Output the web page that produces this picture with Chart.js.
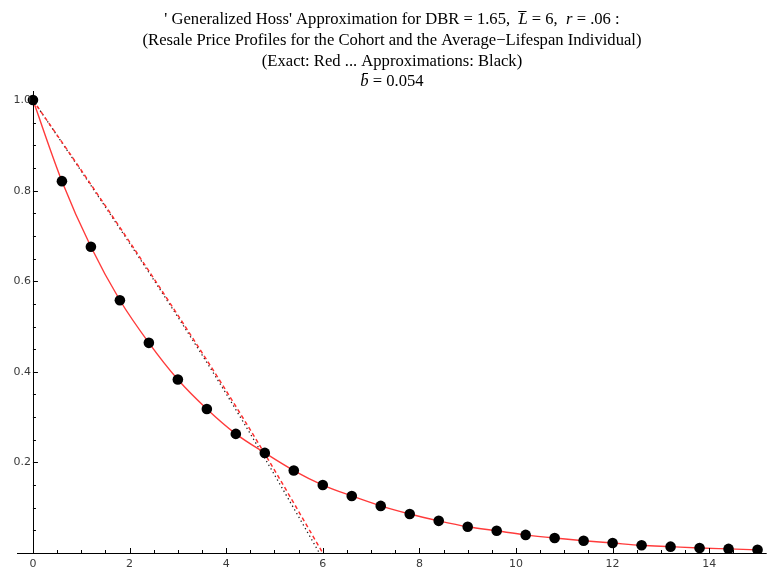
<!DOCTYPE html>
<html>
<head>
<meta charset="utf-8">
<script src="https://cdn.jsdelivr.net/npm/chart.js@4.4.1/dist/chart.umd.min.js"></script>
<style>
  body { margin: 0; background: #fff; }
  #wrap { width: 772px; height: 573px; }
</style>
</head>
<body>
<div id="wrap"><canvas id="chart" width="772" height="573"></canvas></div>
<script>
// approximation dots (black) and exact profile (red)
const ages = [0, 0.6, 1.2, 1.8, 2.4, 3.0, 3.6, 4.2, 4.8, 5.4, 6.0, 6.6, 7.2, 7.8,
  8.4, 9.0, 9.6, 10.2, 10.8, 11.4, 12.0, 12.6, 13.2, 13.8, 14.4, 15.0];
const approxPrices = [1.0, 0.821, 0.676, 0.558, 0.464, 0.383, 0.318, 0.263, 0.221,
  0.182, 0.150, 0.126, 0.104, 0.086, 0.071, 0.058, 0.049, 0.040, 0.033, 0.027,
  0.022, 0.017, 0.014, 0.011, 0.009, 0.007];
const exactPrices = [1.0, 0.821, 0.676, 0.558, 0.464, 0.383, 0.318, 0.263, 0.221,
  0.182, 0.150, 0.126, 0.104, 0.086, 0.071, 0.058, 0.049, 0.040, 0.033, 0.027,
  0.022, 0.017, 0.014, 0.011, 0.009, 0.007];

// average-lifespan individual
const indivExactX = [0, 1, 2, 3, 3.86, 4.85, 6.0];
const indivExactY = [1.0, 0.845, 0.687, 0.525, 0.382, 0.21, 0.0];
const indivApproxX = [0, 1, 2, 3, 3.86, 4.85, 5.93];
const indivApproxY = [1.0, 0.843, 0.684, 0.521, 0.376, 0.20, 0.0];

const xTicks = [0, 2, 4, 6, 8, 10, 12, 14];
const yTicks = [0.2, 0.4, 0.6, 0.8, 1.0];
const xMinorStep = 0.5;
const yMinorStep = 0.05;

const titleLines = [
  [["' Generalized Hoss' Approximation for DBR = 1.65,  ", false], ["L\u0305", true], [" = 6,  ", false], ["r", true], [" = .06 :", false]],
  [["(Resale Price Profiles for the Cohort and the Average\u2212Lifespan Individual)", false]],
  [["(Exact: Red ... Approximations: Black)", false]],
  [["b\u0304", true], [" = 0.054", false]]
];

function pts(xs, ys) {
  return xs.map((x, i) => ({ x: x, y: ys[i] }));
}

const axesPlugin = {
  id: 'mmaAxes',
  afterDraw(chart) {
    const ctx = chart.ctx;
    const xs = chart.scales.x;
    const ys = chart.scales.y;
    const x0 = xs.getPixelForValue(0);
    const y0 = ys.getPixelForValue(0);
    const area = chart.chartArea;

    ctx.save();
    ctx.strokeStyle = '#000';
    ctx.lineWidth = 1;
    ctx.beginPath();
    ctx.moveTo(area.left, Math.round(y0) + 0.5);
    ctx.lineTo(area.right, Math.round(y0) + 0.5);
    ctx.moveTo(Math.round(x0) + 0.5, area.top);
    ctx.lineTo(Math.round(x0) + 0.5, y0);
    ctx.stroke();

    // ticks point inward
    ctx.beginPath();
    for (let v = xMinorStep; v <= xs.max; v += xMinorStep) {
      const px = Math.round(xs.getPixelForValue(v)) + 0.5;
      const major = Math.abs(v / 2 - Math.round(v / 2)) < 1e-6;
      ctx.moveTo(px, y0);
      ctx.lineTo(px, y0 - (major ? 5 : 3));
    }
    for (let v = yMinorStep; v <= ys.max; v += yMinorStep) {
      const py = Math.round(ys.getPixelForValue(v)) + 0.5;
      const major = Math.abs(v / 0.2 - Math.round(v / 0.2)) < 1e-6;
      ctx.moveTo(x0, py);
      ctx.lineTo(x0 + (major ? 5 : 3), py);
    }
    ctx.stroke();

    ctx.fillStyle = '#3a3a3a';
    ctx.font = '11px "DejaVu Sans"';
    ctx.textAlign = 'center';
    ctx.textBaseline = 'middle';
    xTicks.forEach(v => {
      ctx.fillText(String(v), xs.getPixelForValue(v), y0 + 11);
    });
    ctx.textAlign = 'right';
    yTicks.forEach(v => {
      ctx.fillText(v.toFixed(1), x0 - 2, ys.getPixelForValue(v));
    });

    // title, with italic symbols
    const cx = 392;
    const baselines = [24, 45, 66, 86];
    ctx.fillStyle = '#000';
    ctx.textAlign = 'left';
    ctx.textBaseline = 'alphabetic';
    titleLines.forEach((line, i) => {
      let total = 0;
      line.forEach(([t, it]) => {
        ctx.font = (it ? 'italic ' : '') + '16.6px "Liberation Serif"';
        total += ctx.measureText(t).width;
      });
      let x = cx - total / 2;
      line.forEach(([t, it]) => {
        ctx.font = (it ? 'italic ' : '') + '16.6px "Liberation Serif"';
        ctx.fillText(t, x, baselines[i]);
        x += ctx.measureText(t).width;
      });
    });
    ctx.restore();
  }
};

new Chart(document.getElementById('chart'), {
  type: 'scatter',
  data: {
    datasets: [
      {
        label: 'Cohort approximation',
        data: pts(ages, approxPrices),
        showLine: false,
        pointRadius: 5.3,
        pointBackgroundColor: '#000',
        pointBorderWidth: 0,
        order: 0
      },
      {
        label: 'Cohort exact',
        data: pts(ages, exactPrices),
        showLine: true,
        borderColor: '#ff3b3b',
        borderWidth: 1.4,
        pointRadius: 0,
        cubicInterpolationMode: 'monotone',
        order: 1
      },
      {
        label: 'Individual exact',
        data: pts(indivExactX, indivExactY),
        showLine: true,
        borderColor: '#ff3030',
        borderWidth: 1.5,
        borderDash: [4, 3],
        pointRadius: 0,
        cubicInterpolationMode: 'monotone',
        order: 2
      },
      {
        label: 'Individual approximation',
        data: pts(indivApproxX, indivApproxY),
        showLine: true,
        borderColor: '#222',
        borderWidth: 1.3,
        borderDash: [1.3, 3],
        pointRadius: 0,
        cubicInterpolationMode: 'monotone',
        order: 3
      }
    ]
  },
  options: {
    responsive: false,
    animation: false,
    layout: { padding: { left: 17, right: 2, top: 91, bottom: 20 } },
    plugins: {
      legend: { display: false },
      title: { display: false },
      tooltip: { enabled: false }
    },
    scales: {
      x: { type: 'linear', display: false, min: -0.33, max: 15.19 },
      y: { type: 'linear', display: false, min: 0, max: 1.02 }
    }
  },
  plugins: [axesPlugin]
});
</script>
</body>
</html>
